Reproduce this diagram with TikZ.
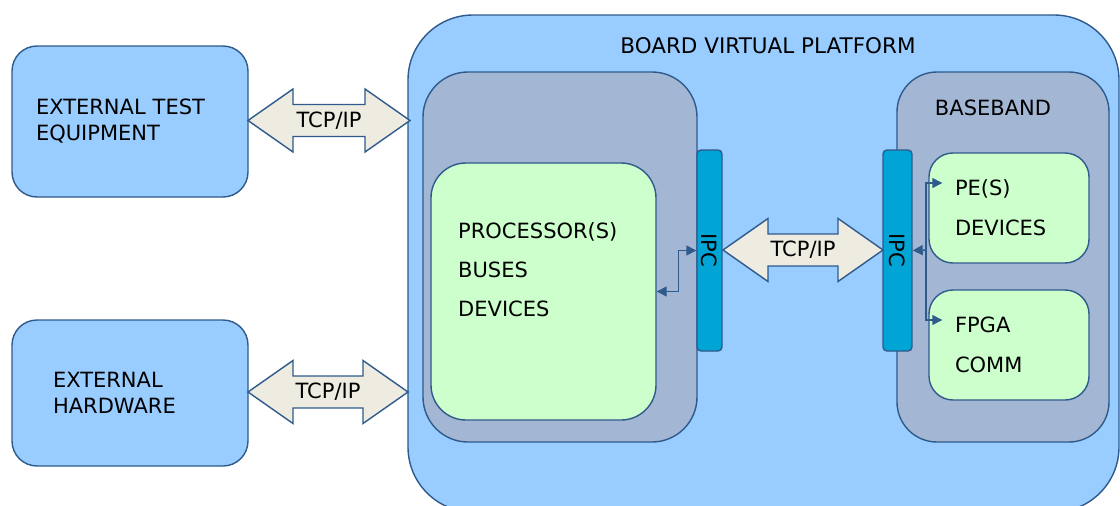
\documentclass[tikz,border=0pt]{standalone}
\usepackage{fontspec}
\setmainfont{DejaVu Sans}
\usetikzlibrary{positioning,shapes.arrows,arrows.meta}

\definecolor{skyfill}{HTML}{99CCFF}
\definecolor{slatefill}{HTML}{A3B6D3}
\definecolor{mintfill}{HTML}{CCFFCC}
\definecolor{ipcfill}{HTML}{00A5D5}
\definecolor{pipefill}{HTML}{EEECE1}
\definecolor{edge}{HTML}{2F5A8C}

\begin{document}
\begin{tikzpicture}[x=1pt, y=-1pt, font=\fontsize{21}{26}\selectfont]
\tikzstyle{box}=[draw=edge, line width=1.4pt, rectangle, inner sep=0pt]
\tikzstyle{ext}=[box, fill=skyfill, rounded corners=25pt, minimum width=236pt, align=left]
\tikzstyle{grey}=[box, fill=slatefill, rounded corners=45pt]
\tikzstyle{mint}=[box, fill=mintfill, rounded corners=24pt, minimum width=160pt, minimum height=110pt, text width=108pt, align=left, font=\fontsize{21}{40}\selectfont]
\tikzstyle{ipc}=[box, fill=ipcfill, rounded corners=4pt, minimum height=201pt]
\tikzstyle{pipe}=[draw=edge, line width=1.4pt, fill=pipefill, double arrow, double arrow tip angle=70, double arrow head extend=15pt, minimum width=63pt, inner xsep=4pt, inner ysep=6pt]
\tikzstyle{link}=[draw=edge, line width=1.4pt, -{Triangle[length=10pt, width=10pt]}]

\useasboundingbox (0,0) rectangle (1120,506);

% outside world
\node[ext, minimum height=151pt, text width=188pt] (tester) at (130,121.5) {EXTERNAL TEST\\EQUIPMENT};
\node[ext, minimum height=146pt, text width=154pt] (hw) at (130,393) {EXTERNAL\\HARDWARE};

% the platform and its two halves
\node[box, fill=skyfill, rounded corners=65pt, minimum width=711pt, minimum height=497pt] (vp) at (763.5,263.5) {};
\node[font=\fontsize{21.5}{26}\selectfont] (vptitle) at (768,46) {BOARD VIRTUAL PLATFORM};
\node[grey, minimum width=274pt, minimum height=370pt] (host) at (560,257) {};
\node[box, fill=mintfill, rounded corners=35pt, minimum width=225pt, minimum height=257pt] (proc) at (543.5,291.5) {};
\node[anchor=west, align=left, inner sep=0pt, font=\fontsize{21}{39}\selectfont] (proctxt) at (458,270) {PROCESSOR(S)\\BUSES\\DEVICES};
\node[grey, rounded corners=40pt, minimum width=212pt, minimum height=370pt] (bb) at (1003,257) {};
\node (bbtitle) at (993,108) {BASEBAND};
\foreach \n/\y/\a/\b in {pe/208/PE(S)/DEVICES, fpga/345/FPGA/COMM}{\node[mint] (\n) at (1009,\y) {\a\\\b};}

% ipc bars
\foreach \n/\x/\w in {ipcL/709.5/25, ipcR/897.5/29}{\node[ipc, minimum width=\w pt] (\n) at (\x,250.5) {\rotatebox{-90}{IPC}};}

% tcp/ip pipes
\foreach \n/\x/\y/\l in {tcpA/329/120.5/162, tcpB/328/392/160, tcpC/803/250/160}{\node[pipe, minimum height=\l pt] (\n) at (\x,\y) {TCP/IP};}

% local links
\draw[link, {Triangle[length=10pt, width=10pt]}-{Triangle[length=10pt, width=10pt]}] (proc.east) -- ++(22,0) |- (ipcL.west);
\coordinate (bus) at (926,250);
\draw[link] (bus) -- (ipcR.east);
\draw[link] (bus) |- ([shift={(14,-25)}]pe.west);
\draw[link] (bus) |- ([shift={(14,-25)}]fpga.west);
\end{tikzpicture}
\end{document}
